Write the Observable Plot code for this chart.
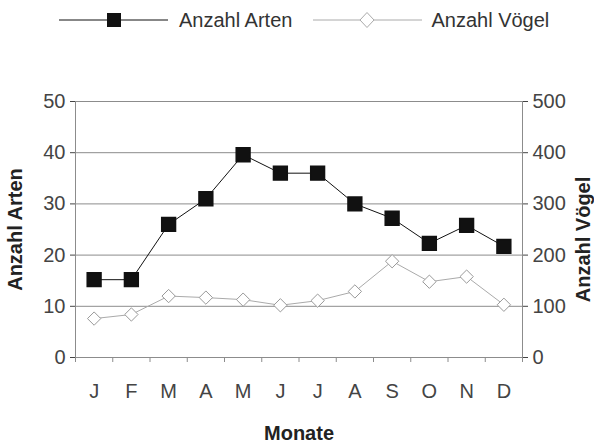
<!DOCTYPE html>
<html>
<head>
<meta charset="utf-8">
<script src="https://cdn.jsdelivr.net/npm/d3@7"></script>
<script src="https://cdn.jsdelivr.net/npm/@observablehq/plot@0.6"></script>
<style>
  html, body { margin: 0; padding: 0; background: #fff; }
  body { width: 594px; height: 443px; overflow: hidden; font-family: "Liberation Sans", Arial, sans-serif; }
  #legend { height: 40px; display: flex; align-items: center; padding-left: 59px; font-size: 20px; color: #333; }
  #legend .sw { display: block; }
  #legend .lab { margin-left: 11px; }
  #legend .gap { width: 21px; }
  #chart svg { display: block; }
</style>
</head>
<body>
<div id="legend">
  <svg class="sw" width="109" height="20">
    <line x1="0" x2="109" y1="10" y2="10" stroke="#111" stroke-width="1"></line>
    <rect x="48.5" y="3.5" width="13" height="13" fill="#111" stroke="#111"></rect>
  </svg>
  <span class="lab">Anzahl Arten</span>
  <span class="gap"></span>
  <svg class="sw" width="109" height="20">
    <line x1="0" x2="109" y1="10" y2="10" stroke="#aaa" stroke-width="1"></line>
    <path d="M54,2.5L61,10L54,17.5L47,10Z" fill="#fff" stroke="#aaa"></path>
  </svg>
  <span class="lab" style="margin-left:9px">Anzahl Vögel</span>
</div>
<div id="chart"></div>
<script>
const months = ["J","F","M","A","M","J","J","A","S","O","N","D"];
const arten = [15.2, 15.2, 26, 31, 39.6, 36, 36, 30, 27.2, 22.3, 25.8, 21.7];
const voegel = [76, 84, 120, 117, 113, 102, 111, 129, 188, 148, 158, 103];
const yTicks = [0, 10, 20, 30, 40, 50];

const data = months.map((m, i) => ({pos: i + 1, month: m, arten: arten[i], voegel: voegel[i]}));
const boundaries = d3.range(0.5, months.length + 1, 1);

const font = "'Liberation Sans', Arial, sans-serif";

const chart = Plot.plot({
  width: 594,
  height: 403,
  marginTop: 61,
  marginBottom: 86,
  marginLeft: 75,
  marginRight: 72,
  style: {fontFamily: font, fontSize: "20px", background: "#fff", color: "#333"},
  x: {type: "linear", domain: [0.5, 12.5]},
  y: {domain: [0, 50]},
  marks: [
    Plot.ruleY([10, 20, 30, 40, 50], {stroke: "#8c8c8c", strokeWidth: 1}),
    Plot.frame({stroke: "#8c8c8c"}),
    Plot.axisY({anchor: "left", ticks: yTicks, tickSize: 5, tickPadding: 5, color: "#444", label: null}),
    Plot.axisY({anchor: "right", ticks: yTicks, tickSize: 5, tickPadding: 5, color: "#444", label: null, tickFormat: d => d * 10}),
    Plot.axisX({anchor: "bottom", ticks: data.map(d => d.pos), tickSize: 0, tickPadding: 26, color: "#444", label: null, tickFormat: p => months[p - 1]}),
    Plot.axisX({anchor: "bottom", ticks: boundaries, tickSize: 5, color: "#8c8c8c", label: null, tickFormat: () => ""}),
    Plot.lineY(data, {x: "pos", y: d => d.voegel / 10, stroke: "#aaa", strokeWidth: 1}),
    Plot.dot(data, {x: "pos", y: d => d.voegel / 10, symbol: "diamond2", r: 6, fill: "#fff", stroke: "#999", strokeWidth: 1}),
    Plot.lineY(data, {x: "pos", y: "arten", stroke: "#111", strokeWidth: 1}),
    Plot.dot(data, {x: "pos", y: "arten", symbol: "square", r: 7.8, fill: "#111", stroke: "#111"}),
    Plot.text(["Anzahl Arten"], {frameAnchor: "left", textAnchor: "middle", lineAnchor: "middle", dx: -60, rotate: -90, fontWeight: "bold", fill: "#222", fontSize: 20}),
    Plot.text(["Anzahl Vögel"], {frameAnchor: "right", textAnchor: "middle", lineAnchor: "middle", dx: 61, dy: 10, rotate: -90, fontWeight: "bold", fill: "#222", fontSize: 20}),
    Plot.text(["Monate"], {frameAnchor: "bottom", textAnchor: "middle", lineAnchor: "middle", dy: 76, fontWeight: "bold", fill: "#222", fontSize: 20})
  ]
});
document.getElementById("chart").appendChild(chart);
</script>
</body>
</html>
